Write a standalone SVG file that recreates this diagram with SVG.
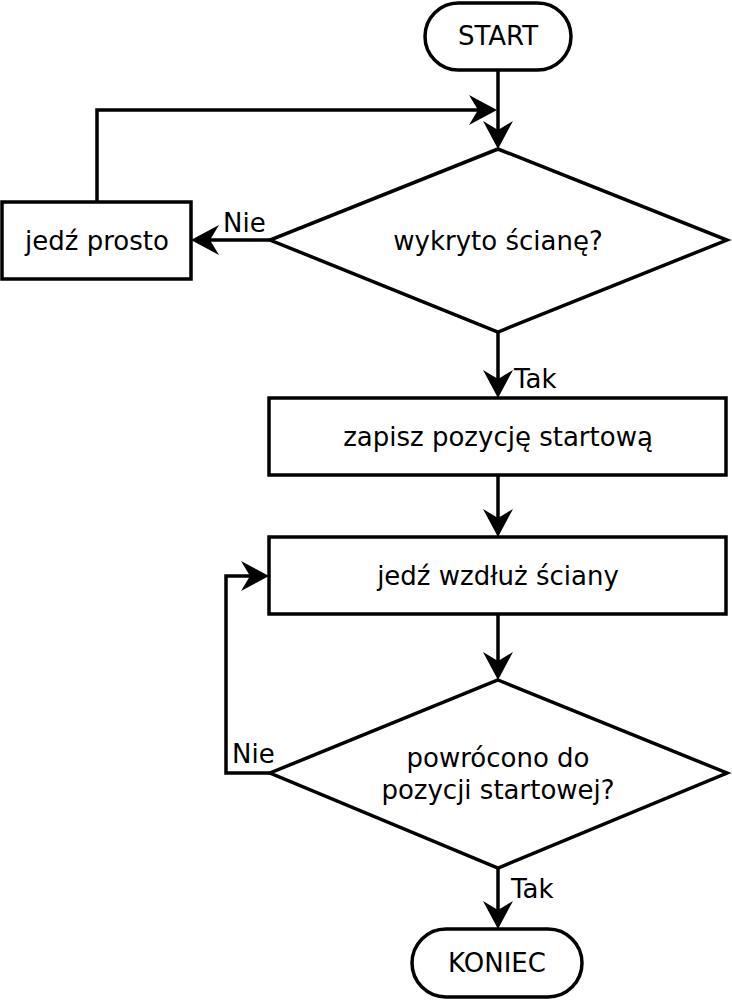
<svg xmlns="http://www.w3.org/2000/svg" width="732" height="1000" viewBox="0 0 732 1000">
<style>
.s{fill:#fff;stroke:#000;stroke-width:3.5}
.c{fill:none;stroke:#000;stroke-width:3.5}
text{font-family:"DejaVu Sans",sans-serif;font-size:26px;fill:#000}
.m{text-anchor:middle}
</style>
<defs>
<marker id="a" markerUnits="userSpaceOnUse" markerWidth="32" markerHeight="32" viewBox="0 -16 32 32" refX="17" refY="0" orient="auto" overflow="visible">
<path d="M0,-15 L28,0 L0,15 L9,0 Z" fill="#000"/>
</marker>
</defs>
<g id="connectors">
<path class="c" d="M498,70 V138" marker-end="url(#a)"/>
<path class="c" d="M270,240 H202" marker-end="url(#a)"/>
<path class="c" d="M97,202 V110 H486" marker-end="url(#a)"/>
<path class="c" d="M498,332 V387" marker-end="url(#a)"/>
<path class="c" d="M498,475 V526" marker-end="url(#a)"/>
<path class="c" d="M498,614 V669" marker-end="url(#a)"/>
<path class="c" d="M270,773 H226 V576 H258" marker-end="url(#a)"/>
<path class="c" d="M498,868 V918" marker-end="url(#a)"/>
<text x="223" y="232">Nie</text>
<text x="514" y="388">Tak</text>
<text x="232" y="763">Nie</text>
<text x="511" y="898">Tak</text>
</g>
<g id="start">
<rect class="s" x="425" y="3" width="146" height="67" rx="33.5"/>
<text class="m" x="498" y="45">START</text>
</g>
<g id="d1">
<path class="s" d="M498,149 L727,240 L498,332 L270,240 Z"/>
<text class="m" x="498" y="250">wykryto ścianę?</text>
</g>
<g id="straight">
<rect class="s" x="2" y="202" width="189" height="77"/>
<text class="m" x="97" y="250">jedź prosto</text>
</g>
<g id="save">
<rect class="s" x="269" y="398" width="457" height="77"/>
<text class="m" x="498" y="446">zapisz pozycję startową</text>
</g>
<g id="follow">
<rect class="s" x="269" y="537" width="457" height="77"/>
<text class="m" x="498" y="585">jedź wzdłuż ściany</text>
</g>
<g id="d2">
<path class="s" d="M498,680 L727,773 L498,868 L270,773 Z"/>
<text class="m" x="498" y="767">powrócono do</text>
<text class="m" x="498" y="799">pozycji startowej?</text>
</g>
<g id="end">
<rect class="s" x="412" y="929" width="170" height="68" rx="34"/>
<text class="m" x="497" y="972">KONIEC</text>
</g>
</svg>
